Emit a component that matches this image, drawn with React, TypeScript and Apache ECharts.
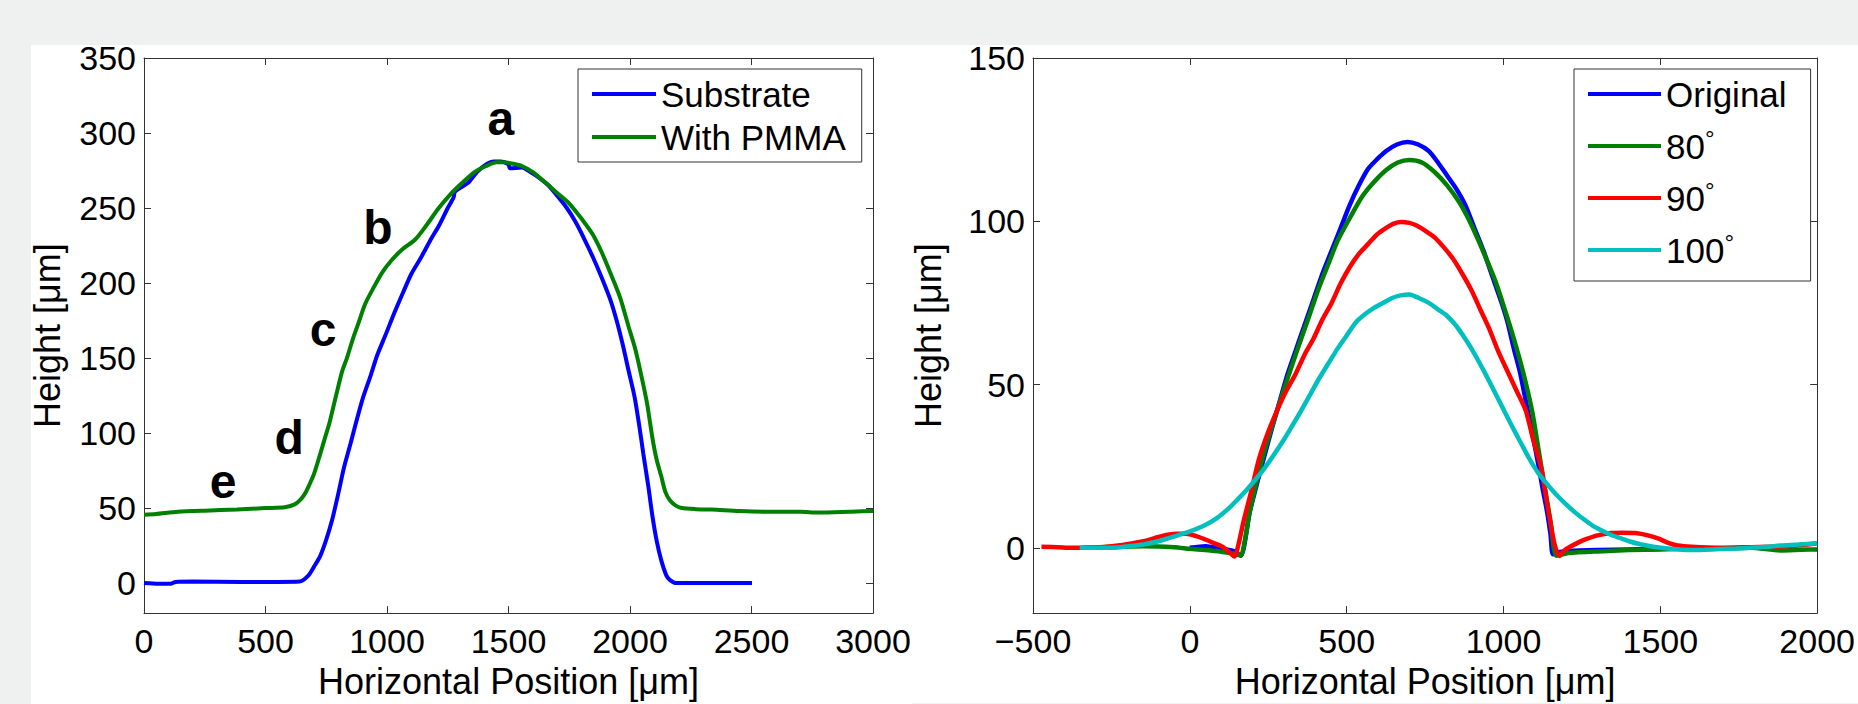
import React, { useEffect, useRef } from 'react';
import * as echarts from 'echarts';

// ---------- Left panel data ----------
const substrate: number[][] = [
  [0, 0], [60, -0.5], [110, -0.5], [130, 0.8], [200, 1], [400, 0.8], [550, 0.8], [640, 1], [676, 5], [700, 11],
  [725, 18], [750, 29], [774, 42], [800, 60], [823, 77], [850, 93], [871, 106], [900, 123], [932, 138], [960, 152],
  [993, 165], [1030, 180], [1067, 194], [1100, 206], [1140, 217], [1180, 229], [1213, 238], [1250, 250], [1274, 257],
  [1280, 261], [1335, 267], [1370, 274], [1408, 279], [1440, 281], [1469, 281], [1500, 279], [1506, 276.5], [1555, 277],
  [1590, 274], [1628, 270], [1665, 265], [1701, 258], [1740, 250], [1775, 241], [1810, 230], [1848, 217], [1885, 203],
  [1921, 188], [1945, 175], [1970, 159], [1995, 141], [2019, 124], [2038, 105], [2055, 86], [2075, 65], [2092, 45],
  [2110, 28], [2129, 15], [2150, 5], [2165, 2], [2190, 0], [2300, 0], [2400, 0], [2502, 0],
];

const withPmma: number[][] = [
  [0, 45.5], [50, 46], [139, 47.5], [250, 48.3], [383, 49], [500, 50], [579, 50.5], [620, 52.5], [640, 55], [660, 59],
  [676, 64], [700, 73], [725, 86], [745, 97], [762, 106], [780, 118], [798, 130], [815, 141], [835, 150], [860, 163],
  [884, 174], [910, 186], [945, 197], [980, 207], [1018, 215], [1060, 222], [1116, 229], [1160, 238], [1213, 250],
  [1260, 259], [1311, 267], [1360, 274], [1408, 278], [1450, 280.5], [1482, 280.5], [1520, 279.5], [1555, 278],
  [1600, 274], [1652, 267], [1700, 260], [1750, 253], [1800, 243], [1848, 232], [1885, 220], [1921, 206], [1960, 190],
  [1994, 171], [2020, 157], [2043, 141], [2070, 120], [2092, 97], [2110, 82], [2129, 71], [2145, 61], [2165, 55],
  [2190, 51.5], [2214, 50], [2270, 49.3], [2336, 49], [2450, 48], [2580, 47.5], [2700, 47.5], [2775, 47], [2900, 47.5],
  [2995, 48], [3000, 48],
];

const annotations: (number | string)[][] = [
  [1469, 310, 'a'], [963, 237, 'b'], [737, 169, 'c'], [597, 97, 'd'], [325, 68, 'e'],
];

// ---------- Right panel data ----------
const original: number[][] = [
  [0, 0], [50, 0.5], [100, -0.3], [140, -1], [162, -2.4], [191, 11], [215, 20], [239, 28.6], [263, 37], [287, 45],
  [311, 53], [336, 60], [365, 68], [394, 76], [423, 84], [452, 91], [481, 98], [510, 105], [539, 111], [568, 116],
  [597, 119], [626, 121.5], [660, 123.5], [694, 124.3], [728, 123.5], [762, 121.5], [791, 118], [820, 114], [849, 110],
  [878, 105], [907, 98], [936, 91], [965, 83], [994, 75], [1013, 69], [1033, 61], [1052, 54], [1071, 45], [1090, 36],
  [1110, 26], [1125, 18], [1139, 11], [1150, 4], [1158, -2], [1180, -1.3], [1207, -1], [1300, -0.7], [1400, -0.5],
  [1497, -0.4],
];

const deg80: number[][] = [
  [-341, 0], [-250, 0.3], [-148, 0.5], [-50, 0.2], [0, -0.3], [50, -0.7], [100, -1.2], [140, -1.8], [162, -2.4],
  [175, 2], [191, 11], [215, 21], [239, 30], [268, 39], [297, 47.6], [326, 56], [355, 64], [384, 72], [413, 80],
  [442, 87], [471, 94], [510, 101], [549, 107.5], [587, 112], [626, 115.7], [663, 118], [700, 118.8], [740, 118],
  [781, 115], [820, 111], [858, 106], [887, 101], [916, 95], [945, 88.5], [974, 81.7], [1004, 73], [1033, 64],
  [1062, 54], [1091, 42], [1110, 31], [1129, 20], [1150, 8], [1168, -2.4], [1190, -2], [1207, -1.6], [1300, -1.1],
  [1400, -0.7], [1500, -0.5], [1594, -0.3], [1700, -0.2], [1787, 0], [1884, -0.8], [1950, -0.6], [2000, -0.5],
];

const deg90: number[][] = [
  [-473, 0.3], [-420, 0.2], [-380, 0], [-300, 0], [-220, 0.8], [-148, 2], [-100, 3.3], [-70, 4], [-40, 4.3],
  [-12, 4.3], [20, 3.6], [46, 2.7], [75, 1.5], [104, 0.3], [125, -1.3], [142, -2.7], [155, 1], [171, 8], [195, 17],
  [220, 27], [248, 35], [278, 42], [307, 48], [336, 53], [365, 59], [394, 64], [423, 70], [452, 75], [481, 81],
  [510, 86], [539, 90], [568, 93], [597, 96], [626, 98], [650, 99.3], [674, 99.8], [700, 99.5], [723, 98.7],
  [752, 97], [781, 95], [810, 92], [839, 88.5], [868, 84], [897, 79], [926, 73], [955, 67], [984, 60], [1013, 54],
  [1042, 48], [1071, 42], [1095, 33], [1120, 24.5], [1135, 16], [1149, 8], [1163, 1], [1178, -2.5], [1192, -1],
  [1207, 0], [1236, 1.5], [1265, 2.7], [1300, 3.8], [1342, 4.5], [1380, 4.6], [1420, 4.5], [1460, 3.8], [1497, 2.7],
  [1525, 1.5], [1555, 0.7], [1600, 0.3], [1690, 0], [1790, 0.2], [1884, 0.4], [1950, 0.8], [2000, 1.4],
];

const deg100: number[][] = [
  [-351, 0], [-300, 0], [-245, 0], [-200, 0.4], [-148, 1], [-100, 2], [-51, 3.4], [0, 5], [46, 6.8], [85, 9],
  [123, 12], [152, 14.8], [181, 17.7], [210, 21], [239, 24.5], [268, 28.5], [297, 32.7], [326, 37.3], [355, 42],
  [384, 47], [413, 52], [442, 56.5], [471, 61], [500, 65], [529, 69], [558, 71.5], [587, 73.5], [616, 75], [645, 76.5],
  [672, 77.3], [700, 77.6], [730, 76.5], [762, 75], [791, 73], [820, 71], [849, 68], [878, 64], [907, 59.5],
  [936, 54.4], [965, 49], [994, 43.5], [1023, 38], [1052, 32.7], [1081, 27.5], [1110, 23], [1139, 19.5],
  [1168, 16.3], [1197, 13.5], [1226, 11], [1255, 8.8], [1284, 6.8], [1313, 5.3], [1342, 4], [1371, 3], [1400, 2],
  [1440, 1], [1477, 0.3], [1530, -0.3], [1594, -0.7], [1640, -0.6], [1690, -0.4], [1740, -0.2], [1787, 0],
  [1840, 0.3], [1884, 0.7], [1940, 1], [2000, 1.4],
];

// ---------- Ticks ----------
const leftXTicks = [0, 500, 1000, 1500, 2000, 2500, 3000];
const leftYTicks = [0, 50, 100, 150, 200, 250, 300, 350];
const rightXTicks = [-500, 0, 500, 1000, 1500, 2000];
const rightYTicks = [0, 50, 100, 150];

const leftNames = ['Substrate', 'With PMMA'];
const rightNames = ['Original', '80°', '90°', '100°'];

const FONT = '"Liberation Sans", Arial, Helvetica, sans-serif';
const AXIS_COLOR = '#333333';

const fmt = (v: number) => (v < 0 ? '\u2212' + Math.abs(v) : String(v));

function makeAxis(
  gridIndex: number,
  min: number,
  max: number,
  ticks: number[],
  position: string,
  showLabel: boolean,
  name?: string,
  nameGap?: number,
) {
  return {
    type: 'value',
    gridIndex,
    min,
    max,
    position,
    splitLine: { show: false },
    axisLine: { show: true, onZero: false, lineStyle: { color: AXIS_COLOR, width: 1 } },
    axisTick: { show: true, inside: true, length: 7, customValues: ticks, lineStyle: { color: AXIS_COLOR, width: 1 } },
    axisLabel: {
      show: showLabel,
      customValues: ticks,
      formatter: fmt,
      fontSize: 34,
      fontFamily: FONT,
      color: '#000',
      margin: position === 'left' ? 8 : 11,
      showMinLabel: true,
      showMaxLabel: true,
    },
    name: name || '',
    nameLocation: 'middle',
    nameGap: nameGap || 0,
    nameTextStyle: { fontSize: 36, fontFamily: FONT, color: '#000' },
  };
}

function lineSeries(name: string, data: number[][], color: string, axisIdx: number, width: number) {
  return {
    type: 'line',
    name,
    data,
    xAxisIndex: axisIdx,
    yAxisIndex: axisIdx,
    showSymbol: false,
    symbol: 'none',
    smooth: 0.25,
    lineStyle: { color, width },
    itemStyle: { color },
    emphasis: { disabled: true },
  };
}

export default function App() {
  const ref = useRef<HTMLDivElement>(null);

  useEffect(() => {
    if (!ref.current) return;
    const chart = echarts.init(ref.current, undefined, { renderer: 'svg' });

    const option: any = {
      animation: false,
      backgroundColor: '#eff0f0',
      graphic: [
        { type: 'rect', z: -100, shape: { x: 31, y: 45, width: 881, height: 659 }, style: { fill: '#ffffff' } },
        { type: 'rect', z: -100, shape: { x: 912, y: 45, width: 946, height: 658 }, style: { fill: '#ffffff' } },
      ],
      grid: [
        { left: 144, top: 58, width: 729, height: 566, containLabel: false },
        { left: 1033, top: 58, width: 790, height: 561, containLabel: false },
      ],
      xAxis: [
        makeAxis(0, 0, 3000, leftXTicks, 'bottom', true, 'Horizontal Position [μm]', 45),
        makeAxis(0, 0, 3000, leftXTicks, 'top', false),
        makeAxis(1, -500, 2000, rightXTicks, 'bottom', true, 'Horizontal Position [μm]', 48),
        makeAxis(1, -500, 2000, rightXTicks, 'top', false),
      ],
      yAxis: [
        makeAxis(0, -20, 350, leftYTicks, 'left', true, 'Height [μm]', 79),
        makeAxis(0, -20, 350, leftYTicks, 'right', false),
        makeAxis(1, -20, 150, rightYTicks, 'left', true, 'Height [μm]', 87),
        makeAxis(1, -20, 150, rightYTicks, 'right', false),
      ],
      legend: [
        {
          data: leftNames,
          orient: 'vertical',
          left: 578,
          top: 69,
          padding: [7.5, 16, 7.5, 14],
          itemGap: 8,
          itemWidth: 64,
          itemHeight: 4,
          icon: 'rect',
          backgroundColor: '#fff',
          borderColor: AXIS_COLOR,
          borderWidth: 1,
          borderRadius: 0,
          selectedMode: false,
          textStyle: { fontSize: 35, fontFamily: FONT, color: '#000', lineHeight: 35 },
        },
        {
          data: rightNames,
          orient: 'vertical',
          left: 1574,
          top: 69,
          padding: [5, 24, 11, 14],
          itemGap: 12,
          itemWidth: 73,
          itemHeight: 4,
          icon: 'rect',
          backgroundColor: '#fff',
          borderColor: AXIS_COLOR,
          borderWidth: 1,
          borderRadius: 0,
          selectedMode: false,
          formatter: (name: string) => name.replace('°', '{deg|°}'),
          textStyle: {
            fontSize: 35,
            fontFamily: FONT,
            color: '#000',
            lineHeight: 40,
            rich: {
              deg: { fontSize: 24, lineHeight: 24, verticalAlign: 'top', fontFamily: FONT, color: '#000' },
            },
          },
        },
      ],
      series: [
        lineSeries(leftNames[0], substrate, '#0000ff', 0, 4),
        lineSeries(leftNames[1], withPmma, '#008000', 0, 4),
        {
          type: 'scatter',
          name: 'labels',
          xAxisIndex: 0,
          yAxisIndex: 0,
          data: annotations,
          symbolSize: 0.1,
          itemStyle: { color: 'rgba(0,0,0,0)' },
          emphasis: { disabled: true },
          z: 10,
          label: {
            show: true,
            position: 'inside',
            formatter: (p: any) => p.data[2],
            fontSize: 48,
            fontWeight: 'bold',
            fontFamily: FONT,
            color: '#000000',
            opacity: 1,
            textBorderWidth: 0,
          },
        },
        lineSeries(rightNames[0], original, '#0000ff', 2, 4.5),
        lineSeries(rightNames[1], deg80, '#008000', 2, 4.5),
        lineSeries(rightNames[2], deg90, '#ff0000', 2, 4.5),
        lineSeries(rightNames[3], deg100, '#00bfbf', 2, 4.5),
      ],
    };

    chart.setOption(option);
    return () => chart.dispose();
  }, []);

  return (
    <div
      ref={ref}
      style={{ position: 'absolute', left: 0, top: 0, width: 1858, height: 704 }}
    />
  );
}
